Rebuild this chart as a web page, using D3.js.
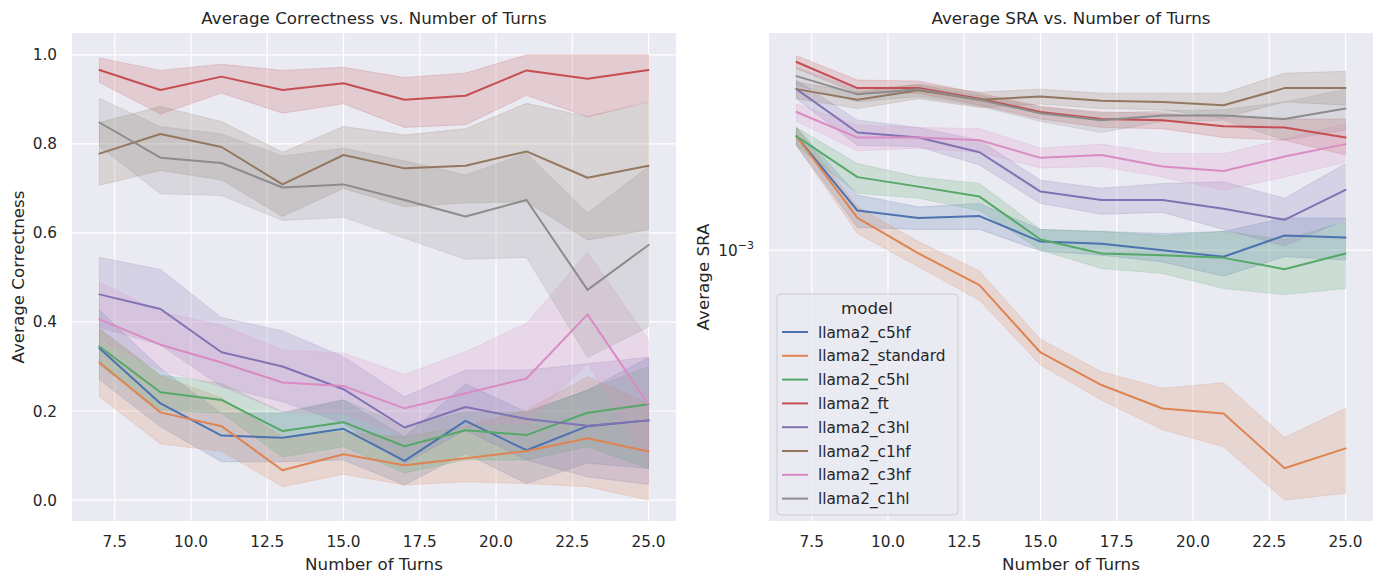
<!DOCTYPE html>
<html>
<head>
<meta charset="utf-8">
<script src="https://cdn.jsdelivr.net/npm/d3@7"></script>
<style>
    body { margin: 0; background: #ffffff; }
    svg text { font-family: "DejaVu Sans", sans-serif; fill: #262626; }
</style>
</head>
<body>
<div id="chart"></div>
<script>
//Data
let turns = [7, 9, 11, 13, 15, 17, 19, 21, 23, 25];
let models = ["llama2_c5hf", "llama2_standard", "llama2_c5hl", "llama2_ft", "llama2_c3hl", "llama2_c1hf", "llama2_c3hf", "llama2_c1hl"];
let colors = ["#4c72b0", "#dd8452", "#55a868", "#c44e52", "#8172b3", "#937860", "#da8bc3", "#8c8c8c"];
let xTicks = [7.5, 10, 12.5, 15, 17.5, 20, 22.5, 25];
let corrTicks = [0, 0.2, 0.4, 0.6, 0.8, 1.0];
let sraTicks = [1e-3];

//Average correctness (mean, lower / upper bound of band)
let corrMean = [
    [0.341, 0.217, 0.145, 0.140, 0.160, 0.088, 0.178, 0.112, 0.166, 0.179],
    [0.309, 0.197, 0.166, 0.067, 0.103, 0.078, 0.094, 0.110, 0.139, 0.109],
    [0.345, 0.242, 0.225, 0.155, 0.175, 0.121, 0.157, 0.146, 0.196, 0.215],
    [0.966, 0.921, 0.951, 0.921, 0.936, 0.899, 0.908, 0.965, 0.946, 0.966],
    [0.462, 0.429, 0.332, 0.300, 0.249, 0.163, 0.209, 0.182, 0.167, 0.179],
    [0.778, 0.822, 0.793, 0.709, 0.775, 0.745, 0.751, 0.783, 0.724, 0.751],
    [0.406, 0.349, 0.309, 0.264, 0.256, 0.206, 0.240, 0.273, 0.417, 0.215],
    [0.848, 0.769, 0.757, 0.702, 0.709, 0.674, 0.637, 0.674, 0.472, 0.573]
];
let corrLow = [
    [0.270, 0.165, 0.086, 0.086, 0.090, 0.034, 0.105, 0.037, 0.083, 0.071],
    [0.232, 0.126, 0.110, 0.030, 0.058, 0.034, 0.041, 0.037, 0.030, 0.000],
    [0.303, 0.202, 0.195, 0.097, 0.120, 0.061, 0.090, 0.090, 0.120, 0.071],
    [0.938, 0.867, 0.914, 0.869, 0.890, 0.837, 0.843, 0.909, 0.861, 0.895],
    [0.388, 0.348, 0.255, 0.221, 0.172, 0.082, 0.157, 0.090, 0.052, 0.035],
    [0.707, 0.740, 0.719, 0.637, 0.700, 0.659, 0.667, 0.670, 0.584, 0.607],
    [0.360, 0.292, 0.255, 0.198, 0.195, 0.142, 0.169, 0.172, 0.307, 0.083],
    [0.794, 0.688, 0.684, 0.628, 0.635, 0.588, 0.541, 0.545, 0.320, 0.389]
];
let corrHigh = [
    [0.427, 0.296, 0.195, 0.195, 0.225, 0.142, 0.261, 0.198, 0.247, 0.320],
    [0.383, 0.279, 0.230, 0.142, 0.153, 0.142, 0.165, 0.202, 0.277, 0.217],
    [0.386, 0.281, 0.262, 0.198, 0.225, 0.165, 0.198, 0.198, 0.247, 0.300],
    [0.993, 0.965, 0.979, 0.965, 0.972, 0.949, 0.959, 1.000, 1.000, 1.000],
    [0.545, 0.518, 0.410, 0.380, 0.322, 0.232, 0.292, 0.292, 0.306, 0.321],
    [0.848, 0.884, 0.850, 0.781, 0.839, 0.820, 0.834, 0.891, 0.861, 0.893],
    [0.489, 0.423, 0.393, 0.337, 0.330, 0.282, 0.333, 0.397, 0.556, 0.360],
    [0.902, 0.839, 0.822, 0.773, 0.790, 0.762, 0.730, 0.779, 0.645, 0.749]
];

//Average SRA (mean, lower / upper bound of band)
let sraMean = [
    [1.69e-3, 1.20e-3, 1.16e-3, 1.17e-3, 1.04e-3, 1.03e-3, 1.00e-3, 0.97e-3, 1.07e-3, 1.06e-3],
    [1.69e-3, 1.16e-3, 0.985e-3, 0.851e-3, 0.624e-3, 0.537e-3, 0.482e-3, 0.471e-3, 0.366e-3, 0.401e-3],
    [1.69e-3, 1.40e-3, 1.34e-3, 1.28e-3, 1.05e-3, 0.985e-3, 0.977e-3, 0.965e-3, 0.916e-3, 0.985e-3],
    [2.38e-3, 2.11e-3, 2.11e-3, 2.01e-3, 1.89e-3, 1.83e-3, 1.82e-3, 1.77e-3, 1.76e-3, 1.68e-3],
    [2.10e-3, 1.72e-3, 1.68e-3, 1.57e-3, 1.31e-3, 1.26e-3, 1.26e-3, 1.21e-3, 1.15e-3, 1.32e-3],
    [2.10e-3, 2.00e-3, 2.09e-3, 2.00e-3, 2.03e-3, 1.99e-3, 1.98e-3, 1.95e-3, 2.11e-3, 2.11e-3],
    [1.89e-3, 1.68e-3, 1.68e-3, 1.66e-3, 1.53e-3, 1.55e-3, 1.47e-3, 1.44e-3, 1.54e-3, 1.63e-3],
    [2.23e-3, 2.05e-3, 2.10e-3, 2.00e-3, 1.88e-3, 1.82e-3, 1.86e-3, 1.86e-3, 1.83e-3, 1.92e-3]
];
let sraLow = [
    [1.62e-3, 1.11e-3, 1.10e-3, 1.10e-3, 0.997e-3, 0.977e-3, 0.947e-3, 0.887e-3, 0.97e-3, 0.955e-3],
    [1.62e-3, 1.08e-3, 0.926e-3, 0.794e-3, 0.589e-3, 0.501e-3, 0.437e-3, 0.404e-3, 0.316e-3, 0.326e-3],
    [1.62e-3, 1.30e-3, 1.27e-3, 1.20e-3, 1.00e-3, 0.919e-3, 0.898e-3, 0.838e-3, 0.815e-3, 0.838e-3],
    [2.31e-3, 2.06e-3, 2.06e-3, 1.95e-3, 1.83e-3, 1.76e-3, 1.75e-3, 1.68e-3, 1.66e-3, 1.55e-3],
    [2.01e-3, 1.62e-3, 1.61e-3, 1.48e-3, 1.24e-3, 1.18e-3, 1.19e-3, 1.10e-3, 1.02e-3, 1.15e-3],
    [2.01e-3, 1.92e-3, 2.01e-3, 1.93e-3, 1.96e-3, 1.92e-3, 1.91e-3, 1.84e-3, 1.98e-3, 1.95e-3],
    [1.81e-3, 1.58e-3, 1.60e-3, 1.57e-3, 1.46e-3, 1.47e-3, 1.40e-3, 1.32e-3, 1.40e-3, 1.50e-3],
    [2.14e-3, 1.98e-3, 2.03e-3, 1.94e-3, 1.81e-3, 1.72e-3, 1.81e-3, 1.82e-3, 1.66e-3, 1.74e-3]
];
let sraHigh = [
    [1.76e-3, 1.29e-3, 1.22e-3, 1.24e-3, 1.10e-3, 1.09e-3, 1.08e-3, 1.09e-3, 1.16e-3, 1.16e-3],
    [1.76e-3, 1.22e-3, 1.04e-3, 0.908e-3, 0.663e-3, 0.571e-3, 0.529e-3, 0.543e-3, 0.422e-3, 0.482e-3],
    [1.76e-3, 1.49e-3, 1.40e-3, 1.36e-3, 1.10e-3, 1.09e-3, 1.07e-3, 1.09e-3, 1.05e-3, 1.14e-3],
    [2.45e-3, 2.19e-3, 2.18e-3, 2.06e-3, 1.94e-3, 1.89e-3, 1.88e-3, 1.84e-3, 1.83e-3, 1.83e-3],
    [2.19e-3, 1.82e-3, 1.76e-3, 1.66e-3, 1.38e-3, 1.33e-3, 1.36e-3, 1.37e-3, 1.27e-3, 1.49e-3],
    [2.17e-3, 2.07e-3, 2.15e-3, 2.07e-3, 2.10e-3, 2.06e-3, 2.06e-3, 2.06e-3, 2.26e-3, 2.28e-3],
    [1.96e-3, 1.78e-3, 1.76e-3, 1.75e-3, 1.60e-3, 1.63e-3, 1.56e-3, 1.56e-3, 1.67e-3, 1.79e-3],
    [2.32e-3, 2.10e-3, 2.14e-3, 2.04e-3, 1.93e-3, 1.88e-3, 1.90e-3, 1.91e-3, 1.98e-3, 2.10e-3]
];

//dimensions
let width = 1384;
let height = 584;
let plotTop = 33;
let plotBottom = 521;

let svg = d3.select("#chart")
    .append("svg")
    .attr("width", width)
    .attr("height", height);

/**
 * Draws one panel: background, grid, bands, lines, ticks and labels
 */
function drawPanel(opts) {
    let x = d3.scaleLinear().domain([6.1, 25.9]).range([opts.left, opts.right]);
    let y = opts.y;
    let g = svg.append("g");

    g.append("rect")
        .attr("x", opts.left).attr("y", plotTop)
        .attr("width", opts.right - opts.left).attr("height", plotBottom - plotTop)
        .attr("fill", "#eaeaf2");

    //grid
    g.selectAll(".vgrid").data(xTicks).enter().append("line")
        .attr("x1", d => x(d)).attr("x2", d => x(d))
        .attr("y1", plotTop).attr("y2", plotBottom)
        .attr("stroke", "#ffffff").attr("stroke-width", 1.2);
    g.selectAll(".hgrid").data(opts.yTicks).enter().append("line")
        .attr("x1", opts.left).attr("x2", opts.right)
        .attr("y1", d => y(d)).attr("y2", d => y(d))
        .attr("stroke", "#ffffff").attr("stroke-width", 1.2);

    let area = d3.area()
        .x(d => x(d.t))
        .y0(d => y(d.lo))
        .y1(d => y(d.hi));
    let line = d3.line()
        .x(d => x(d.t))
        .y(d => y(d.m));

    let series = models.map((m, i) => turns.map((t, j) => ({
        t: t, m: opts.mean[i][j], lo: opts.low[i][j], hi: opts.high[i][j]
    })));

    //bands sit under every line
    series.forEach((s, i) => {
        g.append("path")
            .datum(s)
            .attr("d", area)
            .attr("fill", colors[i])
            .attr("fill-opacity", 0.2)
            .attr("stroke", colors[i])
            .attr("stroke-opacity", 0.2)
            .attr("stroke-width", 1);
    });
    series.forEach((s, i) => {
        g.append("path")
            .datum(s)
            .attr("d", line)
            .attr("fill", "none")
            .attr("stroke", colors[i])
            .attr("stroke-width", 2)
            .attr("stroke-linejoin", "round")
            .attr("stroke-linecap", "round");
    });

    //tick labels
    g.selectAll(".xlab").data(xTicks).enter().append("text")
        .attr("x", d => x(d))
        .attr("y", plotBottom + 26)
        .attr("text-anchor", "middle")
        .style("font-size", "15.3px")
        .text(d => d3.format(".1f")(d));

    let yl = g.selectAll(".ylab").data(opts.yTicks).enter().append("text")
        .attr("x", opts.left - 15)
        .attr("y", d => y(d) + 5.5)
        .attr("text-anchor", "end")
        .style("font-size", "15.3px");
    opts.yFormat(yl);

    //titles
    g.append("text")
        .attr("x", (opts.left + opts.right) / 2)
        .attr("y", 24)
        .attr("text-anchor", "middle")
        .style("font-size", "16.7px")
        .text(opts.title);
    g.append("text")
        .attr("x", (opts.left + opts.right) / 2)
        .attr("y", 570)
        .attr("text-anchor", "middle")
        .style("font-size", "16.7px")
        .text("Number of Turns");
    g.append("text")
        .attr("transform", "translate(" + opts.ylabelX + "," + (plotTop + plotBottom) / 2 + ") rotate(-90)")
        .attr("text-anchor", "middle")
        .style("font-size", "16.7px")
        .text(opts.ylabel);
}

drawPanel({
    left: 72, right: 676,
    y: d3.scaleLinear().domain([-0.047, 1.049]).range([plotBottom, plotTop]),
    yTicks: corrTicks,
    yFormat: sel => sel.text(d => d3.format(".1f")(d)),
    mean: corrMean, low: corrLow, high: corrHigh,
    title: "Average Correctness vs. Number of Turns",
    ylabel: "Average Correctness",
    ylabelX: 24
});

drawPanel({
    left: 769, right: 1373,
    y: d3.scaleLog().domain([2.87e-4, 2.72e-3]).range([plotBottom, plotTop]),
    yTicks: sraTicks,
    yFormat: sel => {
        sel.text("10");
        sel.append("tspan")
            .attr("dy", -7)
            .style("font-size", "11px")
            .text(d => "\u2212" + Math.round(-Math.log10(d)));
    },
    mean: sraMean, low: sraLow, high: sraHigh,
    title: "Average SRA vs. Number of Turns",
    ylabel: "Average SRA",
    ylabelX: 709
});

//Legend
let legend = svg.append("g").attr("transform", "translate(777,294)");
legend.append("rect")
    .attr("width", 181).attr("height", 221)
    .attr("rx", 4)
    .attr("fill", "#eaeaf2").attr("fill-opacity", 0.8)
    .attr("stroke", "#cccccc");
legend.append("text")
    .attr("x", 90).attr("y", 20)
    .attr("text-anchor", "middle")
    .style("font-size", "16.7px")
    .text("model");
let items = legend.selectAll(".item").data(models).enter().append("g")
    .attr("transform", (d, i) => "translate(0," + (38 + i * 23.8) + ")");
items.append("line")
    .attr("x1", 5).attr("x2", 31)
    .attr("stroke", (d, i) => colors[i])
    .attr("stroke-width", 2);
items.append("text")
    .attr("x", 41).attr("y", 5.5)
    .style("font-size", "15.3px")
    .text(d => d);
</script>
</body>
</html>
